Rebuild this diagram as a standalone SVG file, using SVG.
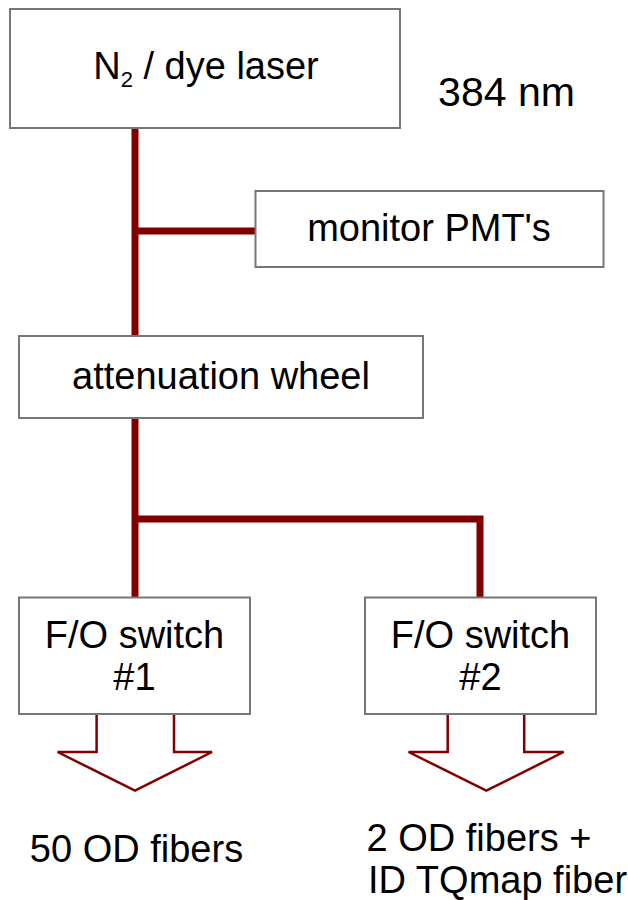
<svg xmlns="http://www.w3.org/2000/svg" width="628" height="900" viewBox="0 0 628 900">
<style>
.box{fill:#fff;stroke:#777;stroke-width:2}
.t{font-family:"Liberation Sans",Arial,sans-serif;font-size:38px;fill:#000;text-anchor:middle}
.conn{fill:none;stroke:#800000;stroke-width:7;stroke-linejoin:miter;stroke-linecap:butt}
.arr{fill:none;stroke:#800000;stroke-width:2.5;stroke-linejoin:miter}
</style>
<rect width="628" height="900" fill="#fff"/>
<g id="connectors">
<path class="conn" d="M135,128 V336 M135,231 H255.5 M135,418 V597.5 M135,519 H480 V597.5"/>
<polyline class="arr" points="96.6,715 96.6,752 57.6,752 135,790.7 212,752 174,752 174,715"/>
<polyline class="arr" points="447.7,715 447.7,752 408.6,752 486.3,790.7 563.6,752 524.2,752 524.2,715"/>
</g>
<g id="laser">
<rect class="box" x="10" y="9" width="390" height="119"/>
<text class="t" x="206" y="79">N<tspan font-size="22" dy="8">2</tspan><tspan dy="-8"> / dye laser</tspan></text>
</g>
<g id="wavelength">
<text class="t" x="506.5" y="106" style="font-size:41px">384 nm</text>
</g>
<g id="monitor">
<rect class="box" x="255.5" y="191" width="348" height="76"/>
<text class="t" x="429" y="241">monitor PMT's</text>
</g>
<g id="attenuation">
<rect class="box" x="19" y="336" width="404" height="82"/>
<text class="t" x="221" y="389">attenuation wheel</text>
</g>
<g id="switch1">
<rect class="box" x="19" y="597.5" width="231" height="116.5"/>
<text class="t" x="134.5" y="647.5">F/O switch</text>
<text class="t" x="134.5" y="690">#1</text>
</g>
<g id="switch2">
<rect class="box" x="365" y="597.5" width="231" height="116.5"/>
<text class="t" x="480.5" y="647.5">F/O switch</text>
<text class="t" x="480.5" y="690">#2</text>
</g>
<g id="out1">
<text class="t" x="136.5" y="861.5">50 OD fibers</text>
</g>
<g id="out2">
<text class="t" x="366.5" y="850.5" style="text-anchor:start">2 OD fibers +</text>
<text class="t" x="368" y="893" style="text-anchor:start">ID TQmap fiber</text>
</g>
</svg>
